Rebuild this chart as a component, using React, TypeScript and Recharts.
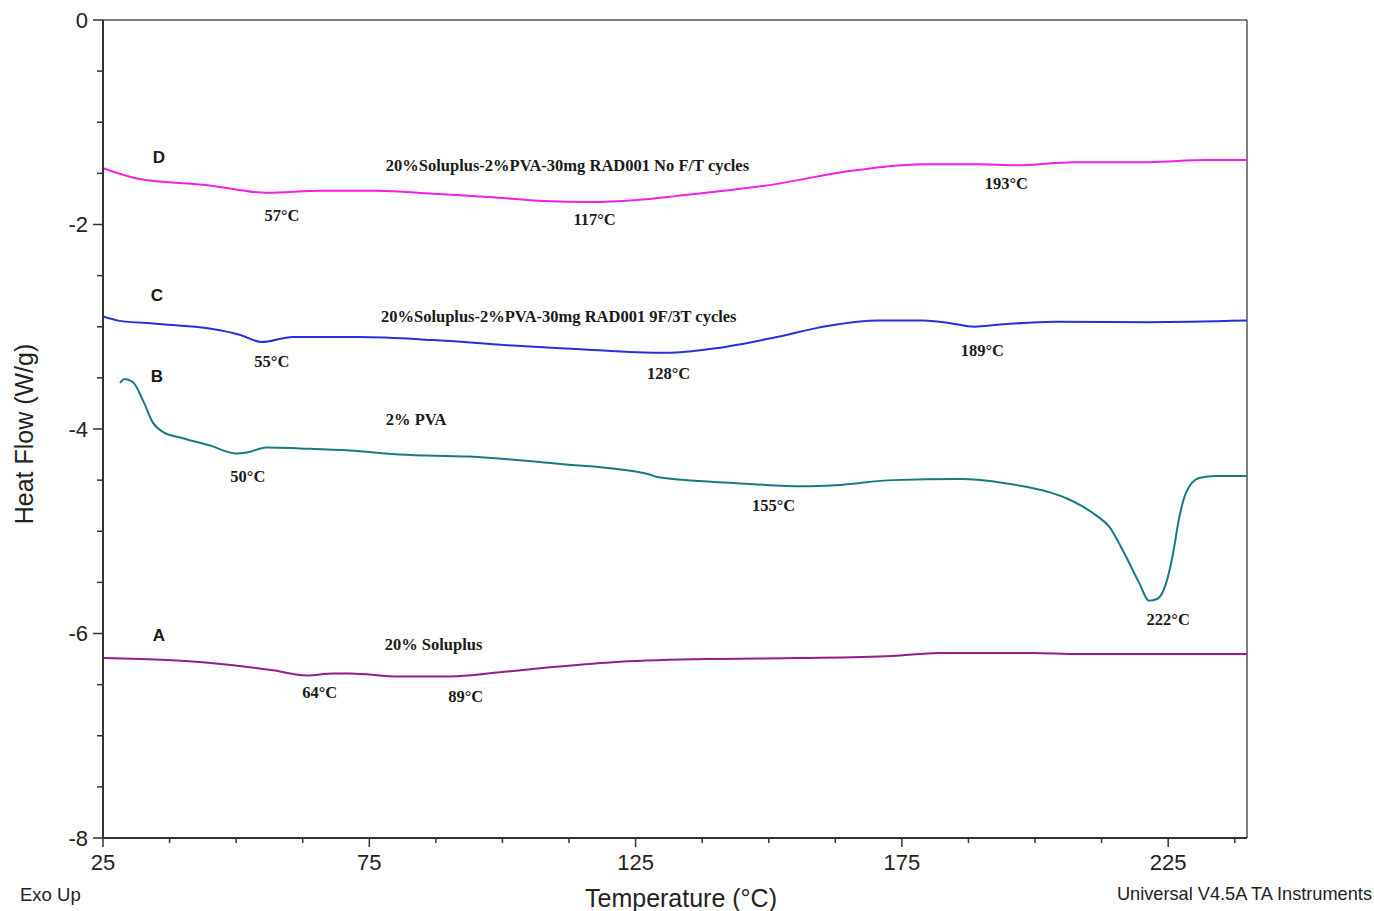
import { ComposedChart, Line, Scatter, XAxis, YAxis, ReferenceLine } from "recharts";

// temperature (°C) / heat flow (W/g)
const tempD = [25, 31.4, 45.3, 55.8, 66, 76.5, 87, 97.4, 107.8, 116.2, 125.2, 132.9, 150.7, 164.8, 179, 189.5, 196.7, 207.2, 221.4, 232, 239.8];
const flowD = [-1.45, -1.55, -1.62, -1.69, -1.67, -1.67, -1.7, -1.73, -1.77, -1.78, -1.76, -1.72, -1.61, -1.48, -1.41, -1.41, -1.42, -1.39, -1.39, -1.37, -1.37];

const tempC = [25, 27.9, 34.9, 45.3, 50.8, 54.8, 60.6, 73, 87, 100.8, 114.7, 125.2, 131, 140.1, 150.7, 161.3, 170.5, 179, 183.5, 188.7, 193.1, 203.7, 221.4, 239.8];
const flowC = [-2.9, -2.94, -2.97, -3.02, -3.08, -3.15, -3.1, -3.1, -3.13, -3.18, -3.22, -3.25, -3.255, -3.21, -3.11, -2.99, -2.94, -2.94, -2.96, -3.0, -2.98, -2.95, -2.955, -2.94];

const tempB = [28.2, 29, 30.6, 32.5, 34.4, 36.3, 40, 45, 50.1, 52, 55.7, 62, 71.3, 80.7, 93.7, 110.5, 127.3, 129, 144, 156.6, 162.5, 173.4, 186, 194.4, 202.8, 206, 209, 211.6, 214, 215.6, 217.1, 219.6, 221.4, 223, 224.6, 225.8, 227.1, 228.3, 230.8, 233.9, 239.8];
const flowB = [-3.55, -3.51, -3.54, -3.72, -3.94, -4.03, -4.09, -4.16, -4.24, -4.23, -4.18, -4.19, -4.21, -4.25, -4.27, -4.34, -4.44, -4.47, -4.53, -4.56, -4.55, -4.5, -4.49, -4.53, -4.62, -4.68, -4.76, -4.85, -4.96, -5.1, -5.25, -5.51, -5.68, -5.66, -5.51, -5.25, -4.86, -4.63, -4.48, -4.46, -4.46];

const tempA = [25, 37, 49.4, 56.9, 63.2, 68.2, 71.3, 80.7, 90.1, 99.5, 108.9, 120.7, 138.2, 155.7, 173.2, 181.9, 199.5, 208.2, 225.7, 239.8];
const flowA = [-6.24, -6.26, -6.31, -6.36, -6.41, -6.39, -6.39, -6.42, -6.42, -6.38, -6.33, -6.28, -6.25, -6.24, -6.22, -6.19, -6.19, -6.2, -6.2, -6.2];

const xTicks = [25, 37.5, 50, 62.5, 75, 87.5, 100, 112.5, 125, 137.5, 150, 162.5, 175, 187.5, 200, 212.5, 225, 237.5];
const xLabelled = [25, 75, 125, 175, 225];
const yTicks = [0, -0.5, -1, -1.5, -2, -2.5, -3, -3.5, -4, -4.5, -5, -5.5, -6, -6.5, -7, -7.5, -8];
const yLabelled = [0, -2, -4, -6, -8];

// curve letters, sample names and peak temperatures
const letterNotes = [
  { t: 35.5, hf: -1.34, text: "D" },
  { t: 35.1, hf: -2.69, text: "C" },
  { t: 35.1, hf: -3.49, text: "B" },
  { t: 35.5, hf: -6.02, text: "A" },
];
const nameNotes = [
  { t: 78.1, hf: -1.42, text: "20%Soluplus-2%PVA-30mg RAD001 No F/T cycles" },
  { t: 77.2, hf: -2.9, text: "20%Soluplus-2%PVA-30mg RAD001 9F/3T cycles" },
  { t: 78.1, hf: -3.91, text: "2% PVA" },
  { t: 77.9, hf: -6.11, text: "20% Soluplus" },
];
const peakNotes = [
  { t: 58.6, hf: -1.91, text: "57°C" },
  { t: 117.3, hf: -1.95, text: "117°C" },
  { t: 194.6, hf: -1.6, text: "193°C" },
  { t: 56.7, hf: -3.34, text: "55°C" },
  { t: 131.2, hf: -3.46, text: "128°C" },
  { t: 190.1, hf: -3.23, text: "189°C" },
  { t: 52.2, hf: -4.46, text: "50°C" },
  { t: 150.9, hf: -4.75, text: "155°C" },
  { t: 225, hf: -5.86, text: "222°C" },
  { t: 65.7, hf: -6.58, text: "64°C" },
  { t: 93.1, hf: -6.62, text: "89°C" },
];

const toPoints = (t: number[], hf: number[]) => t.map((v, i) => ({ t: v, hf: hf[i] }));

const SANS = "'Liberation Sans', Arial, sans-serif";
const SERIF = "'Liberation Serif', 'Times New Roman', serif";
const INK = "#222";

function noteShape(family: string, size: number, anchor: "start" | "middle") {
  return (p: any) => (
    <text x={p.cx} y={p.cy} textAnchor={anchor} dominantBaseline="central" fontFamily={family} fontSize={size} fontWeight="bold" fill="#1a1a1a">
      {p.payload.text}
    </text>
  );
}

function XTick({ x, y, payload }: any) {
  const major = xLabelled.includes(payload.value);
  return (
    <g>
      <line x1={x} x2={x} y1={y} y2={y + (major ? 9 : 5)} stroke="#333" strokeWidth={1.5} />
      {major && (
        <text x={x} y={y + 24} textAnchor="middle" dominantBaseline="central" fontFamily={SANS} fontSize={22} fill={INK}>
          {payload.value}
        </text>
      )}
    </g>
  );
}

function YTick({ x, y, payload }: any) {
  const major = yLabelled.includes(payload.value);
  return (
    <g>
      <line x1={x} x2={x - (major ? 10 : 6)} y1={y} y2={y} stroke="#333" strokeWidth={1.5} />
      {major && (
        <text x={x - 15} y={y} textAnchor="end" dominantBaseline="central" fontFamily={SANS} fontSize={22} fill={INK}>
          {payload.value}
        </text>
      )}
    </g>
  );
}

function YTitle({ viewBox }: any) {
  const cx = 24;
  const cy = viewBox ? viewBox.y + viewBox.height / 2 + 5 : 434;
  return (
    <text x={cx} y={cy} transform={`rotate(-90 ${cx} ${cy})`} textAnchor="middle" dominantBaseline="central" fontFamily={SANS} fontSize={25} fill={INK}>
      Heat Flow (W/g)
    </text>
  );
}

function XTitle({ viewBox }: any) {
  const cx = viewBox ? viewBox.x + viewBox.width / 2 + 6 : 681;
  return (
    <g>
      <text x={cx} y={898} textAnchor="middle" dominantBaseline="central" fontFamily={SANS} fontSize={25} fill={INK}>
        Temperature (°C)
      </text>
      <text x={20} y={894} textAnchor="start" dominantBaseline="central" fontFamily={SANS} fontSize={18.5} fill={INK}>
        Exo Up
      </text>
      <text x={1372} y={894} textAnchor="end" dominantBaseline="central" fontFamily={SANS} fontSize={18.2} fill={INK}>
        Universal V4.5A TA Instruments
      </text>
    </g>
  );
}

export default function App() {
  return (
    <div style={{ position: "absolute", left: 0, top: 0, background: "#fff" }}>
      <ComposedChart width={1374} height={911} margin={{ top: 20, right: 127, left: 0, bottom: 0 }}>
        <XAxis
          type="number"
          dataKey="t"
          domain={[25, 239.8]}
          ticks={xTicks}
          interval={0}
          allowDataOverflow
          height={73}
          tickSize={0}
          tickMargin={0}
          tick={<XTick />}
          axisLine={{ stroke: "#333", strokeWidth: 2 }}
          label={<XTitle />}
        />
        <YAxis
          type="number"
          dataKey="hf"
          domain={[-8, 0]}
          ticks={yTicks}
          interval={0}
          allowDataOverflow
          width={103}
          tickSize={0}
          tickMargin={0}
          tick={<YTick />}
          axisLine={{ stroke: "#333", strokeWidth: 2 }}
          label={<YTitle />}
        />
        <ReferenceLine y={0} stroke="#555" strokeWidth={1.5} />
        <ReferenceLine x={239.8} stroke="#555" strokeWidth={1.5} />
        <Line data={toPoints(tempD, flowD)} dataKey="hf" type="monotone" stroke="#f21fe4" strokeWidth={2} dot={false} isAnimationActive={false} />
        <Line data={toPoints(tempC, flowC)} dataKey="hf" type="monotone" stroke="#2430e0" strokeWidth={2} dot={false} isAnimationActive={false} />
        <Line data={toPoints(tempB, flowB)} dataKey="hf" type="monotone" stroke="#167a86" strokeWidth={2} dot={false} isAnimationActive={false} />
        <Line data={toPoints(tempA, flowA)} dataKey="hf" type="monotone" stroke="#941c8c" strokeWidth={2} dot={false} isAnimationActive={false} />
        <Scatter data={letterNotes} dataKey="hf" shape={noteShape(SANS, 17, "middle")} isAnimationActive={false} />
        <Scatter data={nameNotes} dataKey="hf" shape={noteShape(SERIF, 16.5, "start")} isAnimationActive={false} />
        <Scatter data={peakNotes} dataKey="hf" shape={noteShape(SERIF, 16.5, "middle")} isAnimationActive={false} />
      </ComposedChart>
    </div>
  );
}
